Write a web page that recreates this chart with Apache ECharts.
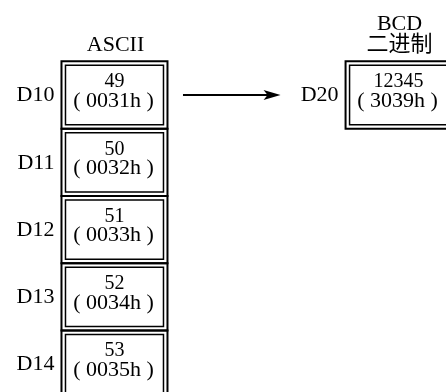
<!DOCTYPE html>
<html>
<head>
<meta charset="utf-8">
<script src="https://cdn.jsdelivr.net/npm/echarts@6/dist/echarts.min.js"></script>
<style>
  html, body { margin: 0; padding: 0; background: #fff; }
  #main { width: 446px; height: 392px; }
</style>
</head>
<body>
<div id="main"></div>
<script>
// ASCII source registers (left column)
const asciiRegs = ['D10', 'D11', 'D12', 'D13', 'D14'];
const asciiDec = [49, 50, 51, 52, 53];
const asciiHex = ['0031h', '0032h', '0033h', '0034h', '0035h'];
// BCD result register (right column)
const bcdRegs = ['D20'];
const bcdDec = [12345];
const bcdHex = ['3039h'];
// column headers
const headers = ['ASCII', 'BCD\n二进制'];

const SERIF = '"Liberation Serif", "Noto Sans CJK SC", serif';

const cellData = [];
asciiRegs.forEach((r, i) => cellData.push([0, i, r, asciiDec[i], asciiHex[i]]));
bcdRegs.forEach((r, i) => cellData.push([1, i, r, bcdDec[i], bcdHex[i]]));

const CW = 106, CH = 67.3, INS = 4;

const chart = echarts.init(document.getElementById('main'));
chart.setOption({
  animation: false,
  grid: { left: 0, right: 0, top: 0, bottom: 0 },
  xAxis: { type: 'value', min: -0.403, max: 1.167, show: false },
  yAxis: { type: 'value', min: -1.4116, max: 4.413, inverse: true, show: false },
  series: [
    {
      type: 'custom',
      name: 'cells',
      data: cellData,
      renderItem: function (params, api) {
        const c = api.coord([api.value(0), api.value(1)]);
        const d = cellData[params.dataIndex];
        const x0 = c[0] - CW / 2, y0 = c[1] - CH / 2;
        return {
          type: 'group',
          children: [
            { type: 'rect', shape: { x: x0, y: y0, width: CW, height: CH },
              style: { fill: 'none', stroke: '#000', lineWidth: 2 } },
            { type: 'rect', shape: { x: x0 + INS, y: y0 + INS, width: CW - 2 * INS, height: CH - 2 * INS },
              style: { fill: 'none', stroke: '#000', lineWidth: 1.5 } },
            { type: 'text', style: { text: d[2], x: x0 - 7, y: c[1] + 0.5, align: 'right', verticalAlign: 'middle',
              fontSize: 22, fontFamily: SERIF, fill: '#000' } },
            { type: 'text', style: { text: String(d[3]), x: c[0], y: c[1] - 13, align: 'center',
              verticalAlign: 'middle', fontSize: 20, fontFamily: SERIF, fill: '#000' } },
            { type: 'text', style: { text: '(\u2005' + d[4] + '\u2005)', x: c[0] - 1, y: c[1] + 6, align: 'center',
              verticalAlign: 'middle', fontSize: 22, fontFamily: SERIF, fill: '#000' } }
          ]
        };
      }
    },
    {
      type: 'custom',
      name: 'headers',
      data: headers.map((h, i) => [i, 0, h]),
      renderItem: function (params, api) {
        const c = api.coord([api.value(0), api.value(1)]);
        return {
          type: 'text',
          style: { text: headers[params.dataIndex], x: c[0] + 1, y: c[1] - CH / 2 - 6, align: 'center',
            verticalAlign: 'bottom', lineHeight: 21, fontSize: 22, fontFamily: SERIF, fill: '#000' }
        };
      }
    },
    {
      type: 'custom',
      name: 'arrow',
      data: [[0, 0, 1, 0]],
      renderItem: function (params, api) {
        const a = api.coord([api.value(0), api.value(1)]);
        const b = api.coord([api.value(2), api.value(3)]);
        const xs = a[0] + 68.5, xe = b[0] - 118, y = a[1];
        return {
          type: 'group',
          children: [
            { type: 'line', shape: { x1: xs, y1: y, x2: xe - 12, y2: y }, style: { stroke: '#000', lineWidth: 2 } },
            { type: 'polygon', shape: { points: [[xe, y], [xe - 17, y - 5], [xe - 13, y], [xe - 17, y + 5]] },
              style: { fill: '#000' } }
          ]
        };
      }
    }
  ]
});
</script>
</body>
</html>
